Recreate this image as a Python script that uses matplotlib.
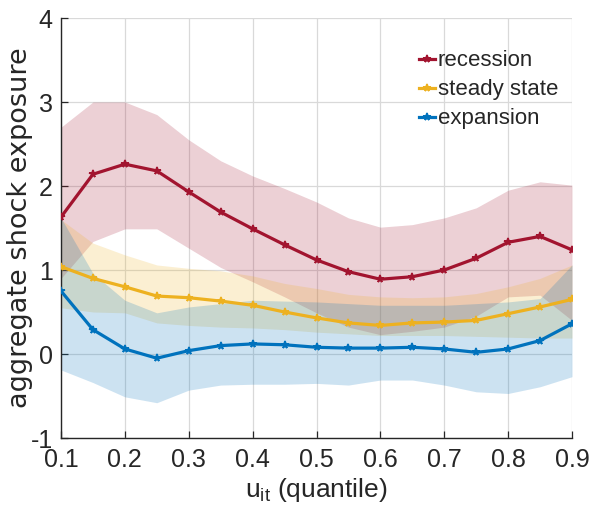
import matplotlib
matplotlib.use("Agg")
import matplotlib.pyplot as plt
import numpy as np

plt.rcParams['axes.unicode_minus'] = False
REG = ['Liberation Sans', 'DejaVu Sans']
plt.rcParams['font.family'] = REG

quantiles = [0.10, 0.15, 0.20, 0.25, 0.30, 0.35, 0.40, 0.45, 0.50,
             0.55, 0.60, 0.65, 0.70, 0.75, 0.80, 0.85, 0.90]

recession = [1.63, 2.14, 2.26, 2.18, 1.93, 1.69, 1.49, 1.30, 1.12,
             0.98, 0.89, 0.92, 1.00, 1.14, 1.33, 1.40, 1.24]
recession_hi = [2.70, 3.00, 3.00, 2.85, 2.55, 2.30, 2.12, 1.97, 1.81,
                1.62, 1.51, 1.54, 1.62, 1.74, 1.95, 2.05, 2.01]
recession_lo = [0.90, 1.34, 1.49, 1.49, 1.26, 1.03, 0.86, 0.68, 0.49,
                0.32, 0.23, 0.27, 0.32, 0.45, 0.68, 0.70, 0.40]

steady = [1.04, 0.90, 0.80, 0.69, 0.67, 0.63, 0.58, 0.50, 0.43,
          0.37, 0.34, 0.37, 0.38, 0.40, 0.48, 0.56, 0.65]
steady_hi = [1.60, 1.32, 1.18, 1.06, 1.02, 0.99, 0.93, 0.84, 0.78,
             0.71, 0.68, 0.67, 0.68, 0.72, 0.80, 0.90, 1.06]
steady_lo = [0.55, 0.50, 0.49, 0.37, 0.34, 0.32, 0.31, 0.29, 0.26,
             0.24, 0.22, 0.22, 0.22, 0.21, 0.20, 0.19, 0.19]

expansion = [0.75, 0.29, 0.06, -0.05, 0.04, 0.10, 0.12, 0.11, 0.08,
             0.07, 0.07, 0.08, 0.06, 0.02, 0.06, 0.16, 0.36]
expansion_hi = [1.62, 0.96, 0.64, 0.49, 0.56, 0.60, 0.64, 0.63, 0.62,
                0.60, 0.58, 0.58, 0.58, 0.60, 0.62, 0.66, 1.06]
expansion_lo = [-0.19, -0.34, -0.51, -0.58, -0.43, -0.37, -0.36, -0.36, -0.35,
                -0.37, -0.31, -0.31, -0.37, -0.45, -0.47, -0.39, -0.27]

labels = ['recession', 'steady state', 'expansion']
colors = ['#A2142F', '#EDB120', '#0072BD']
xticks = [0.1, 0.2, 0.3, 0.4, 0.5, 0.6, 0.7, 0.8, 0.9]
yticks = [-1, 0, 1, 2, 3, 4]

fig = plt.figure(figsize=(5.91, 5.19), dpi=100)
ax = fig.add_axes([61/591, 81/519, 511/591, 420/519])

series = [(recession, recession_lo, recession_hi),
          (steady, steady_lo, steady_hi),
          (expansion, expansion_lo, expansion_hi)]

for (m, lo, hi), c in zip(series, colors):
    ax.fill_between(quantiles, lo, hi, color=c, alpha=0.2, linewidth=0, zorder=1)

for (m, lo, hi), c, lab in zip(series, colors, labels):
    ax.plot(quantiles, m, color=c, lw=2.3, marker='*', markersize=5.5,
            markeredgewidth=1.2, label=lab, zorder=3)

ax.set_xlim(0.1, 0.9)
ax.set_ylim(-1, 4)
ax.set_xticks(xticks)
ax.set_xticklabels([f'{v:.1f}' for v in xticks])
ax.set_yticks(yticks)
ax.set_yticklabels([str(v) for v in yticks])
ax.grid(True, color='#d9d9d9', lw=0.9, zorder=0)
ax.set_axisbelow(True)
for s in ['top', 'right']:
    ax.spines[s].set_visible(False)
for s in ['left', 'bottom']:
    ax.spines[s].set_color('#262626')
    ax.spines[s].set_linewidth(1.0)
ax.tick_params(direction='in', length=5, width=0.9, colors='#262626',
               labelsize=18)
ax.tick_params(axis='x', pad=7)
ax.tick_params(axis='y', pad=6)

ax.set_ylabel('aggregate shock exposure', fontsize=19.5,
              family=['DejaVu Sans'], color='#262626')
ax.yaxis.set_label_coords(-0.055, 0.5)
ax.set_xlabel(r'$\mathregular{u_{it}}$ (quantile)', fontsize=19,
              color='#262626', labelpad=3)

leg = ax.legend(loc='upper left', bbox_to_anchor=(0.700, 0.923), frameon=False,
                fontsize=16, handlelength=0.75, handletextpad=0.1,
                labelspacing=0.36, borderpad=0, borderaxespad=0)
for t in leg.get_texts():
    t.set_color('#262626')

fig.savefig('out.png', dpi=100)
